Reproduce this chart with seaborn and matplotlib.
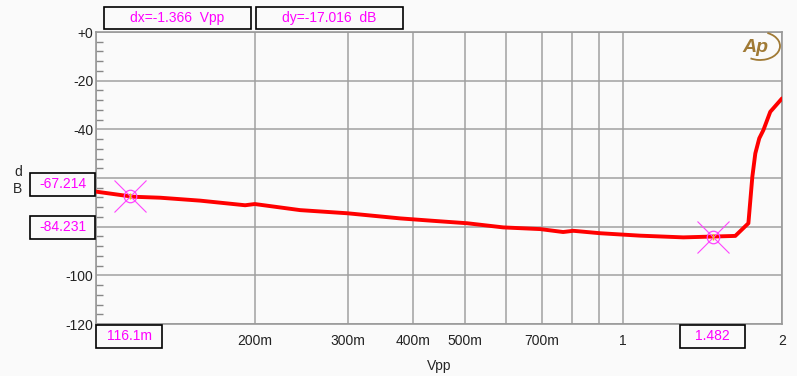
import numpy as np
import pandas as pd
import matplotlib
matplotlib.use("Agg")
import matplotlib.pyplot as plt
import seaborn as sns
from matplotlib.patches import Rectangle, Arc
from matplotlib.ticker import FixedLocator, NullFormatter

# sweep data
vpp = [0.1, 0.1176, 0.1323, 0.1575, 0.1918, 0.2, 0.2438, 0.3, 0.3775, 0.436,
       0.506, 0.592, 0.696, 0.769, 0.804, 0.904, 1.077, 1.30, 1.631, 1.727,
       1.757, 1.78, 1.811, 1.844, 1.90, 2.0]
level_db = [-65.6, -67.7, -68.1, -69.3, -71.2, -70.7, -73.2, -74.5, -76.6, -77.6,
            -78.6, -80.3, -81.0, -82.2, -81.7, -82.7, -83.7, -84.4, -83.8, -78.6,
            -59.5, -49.9, -43.7, -40.3, -32.8, -27.3]

# cursors
cursor_x = [0.1161, 1.482]
cursor_y = [-67.214, -84.231]
cursor_x_labels = ["116.1m", "1.482"]
cursor_y_labels = ["-67.214", "-84.231"]
dx_text = "dx=-1.366  Vpp"
dy_text = "dy=-17.016  dB"

# 100m, -60 and -80 sit under the cursor readouts, so left blank
x_ticks = [0.1, 0.2, 0.3, 0.4, 0.5, 0.7, 1, 2]
x_tick_labels = ["", "200m", "300m", "400m", "500m", "700m", "1", "2"]
x_minor = [0.6, 0.8, 0.9]
y_ticks = [-120, -100, -80, -60, -40, -20, 0]
y_tick_labels = ["-120", "-100", "", "", "-40", "-20", "+0"]

sns.set_style("white")
plt.rcParams['font.family'] = ['Liberation Sans', 'DejaVu Sans']

W, H = 797, 376
bg = "#fafafa"
fig = plt.figure(figsize=(W / 100, H / 100), dpi=100, facecolor=bg)
ax = fig.add_axes([96 / W, 1 - 324 / H, 686 / W, 292 / H])
ax.set_facecolor(bg)

df = pd.DataFrame({"Vpp": vpp, "dB": level_db})
sns.lineplot(data=df, x="Vpp", y="dB", ax=ax, color="#ff0000", linewidth=2.8,
             estimator=None, zorder=3)

ax.set_xscale("log")
ax.set_xlim(0.1, 2.0)
ax.set_ylim(-120, 0)
ax.xaxis.set_major_locator(FixedLocator(x_ticks))
ax.set_xticklabels(x_tick_labels)
ax.xaxis.set_minor_locator(FixedLocator(x_minor))
ax.xaxis.set_minor_formatter(NullFormatter())
ax.set_yticks(y_ticks)
ax.set_yticklabels(y_tick_labels)
ax.yaxis.set_minor_locator(FixedLocator(np.arange(-120, 1, 4)))

grid_c = "#a0a0a0"
ax.grid(True, which="both", axis="x", color=grid_c, linewidth=1.1)
ax.grid(True, which="major", axis="y", color=grid_c, linewidth=1.1)
ax.tick_params(axis="x", which="both", length=0, pad=7, labelsize=10, colors="#222222")
ax.tick_params(axis="y", which="major", length=0, pad=2, labelsize=10, colors="#222222")
ax.tick_params(axis="y", which="minor", direction="in", length=5, width=1, color="#888888", left=True)
for s in ax.spines.values():
    s.set_color("#999999")
    s.set_linewidth(1.2)

ax.set_xlabel("Vpp", fontsize=10, labelpad=8)
ax.set_ylabel("")
fig.text(18 / W, 1 - 172 / H, "d", fontsize=10, ha="center", va="center")
fig.text(18 / W, 1 - 189 / H, "B", fontsize=10, ha="center", va="center")

# cursor markers
for cx, cy in zip(cursor_x, cursor_y):
    ax.plot(cx, cy, marker="x", markersize=23, color="#ff44ff", mew=0.8, zorder=4)
    ax.plot(cx, cy, marker="o", markersize=9, color="#ff44ff", mfc="none", mew=0.9, zorder=4)
    ax.plot(cx, cy, marker="|", markersize=5, color="#e8c800", mew=1.0, zorder=5)


def box(x0, y0, x1, y1, text):
    fig.add_artist(Rectangle((x0 / W, 1 - y1 / H), (x1 - x0) / W, (y1 - y0) / H,
                             transform=fig.transFigure, facecolor=bg,
                             edgecolor="black", linewidth=1.2, zorder=10))
    fig.text((x0 + x1) / 2 / W, 1 - (y0 + y1) / 2 / H, text, color="#ff00ff",
             fontsize=10, ha="center", va="center", zorder=11)


box(104, 7, 251, 29, dx_text)
box(256, 7, 403, 29, dy_text)
box(30, 173, 95, 196, cursor_y_labels[0])
box(30, 216, 95, 239, cursor_y_labels[1])
box(96, 325, 162, 348, cursor_x_labels[0])
box(680, 325, 745, 348, cursor_x_labels[1])

# AP logo
logo_c = "#a07a35"
fig.text(755 / W, 1 - 47 / H, "Ap", fontsize=14, fontstyle="italic", fontweight="bold",
         color=logo_c, ha="center", va="center")
fig.add_artist(Arc((760 / W, 1 - 46 / H), 40 / W, 28 / H, theta1=-110, theta2=75,
                   transform=fig.transFigure, color=logo_c, linewidth=1.3))

fig.savefig("out.png", dpi=100, facecolor=fig.get_facecolor())
